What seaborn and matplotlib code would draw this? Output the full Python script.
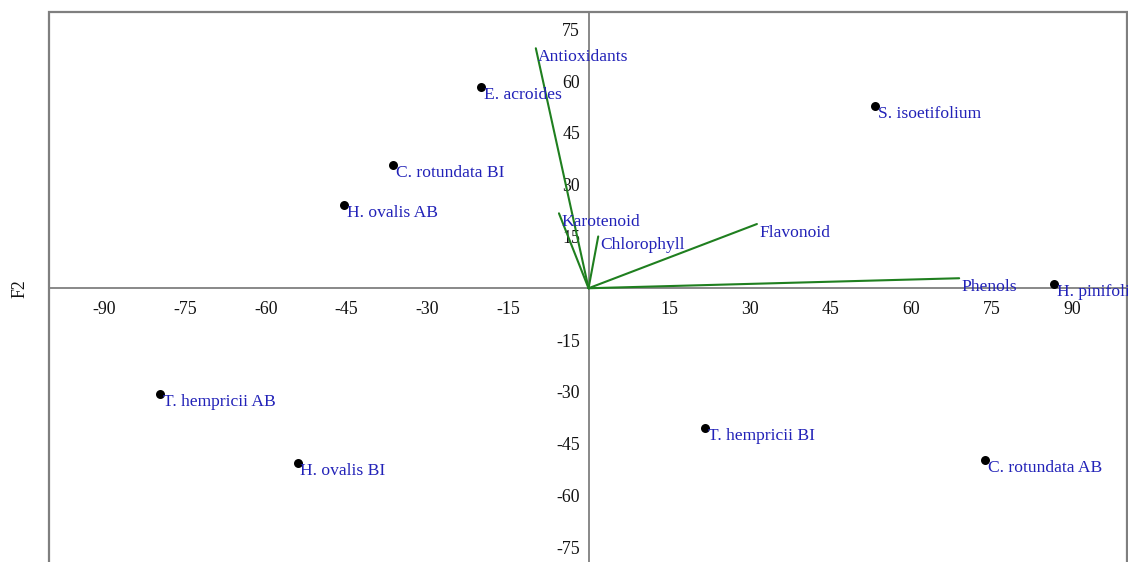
import matplotlib
matplotlib.use("Agg")
import matplotlib.pyplot as plt
import seaborn as sns
import pandas as pd
from matplotlib.patches import Rectangle

# Observation scores (F1, F2)
samples = ["E. acroides", "C. rotundata BI", "H. ovalis AB", "S. isoetifolium",
           "H. pinifolia", "T. hempricii AB", "H. ovalis BI", "T. hempricii BI",
           "C. rotundata AB"]
sample_f1 = [-19.9, -36.3, -45.4, 53.3, 86.6, -79.6, -54.1, 21.6, 73.7]
sample_f2 = [58.3, 35.6, 24.0, 52.8, 1.3, -30.5, -50.7, -40.6, -49.6]

# Variable loadings (scaled)
variables = ["Antioxidants", "Karotenoid", "Chlorophyll", "Flavonoid", "Phenols"]
var_f1 = [-9.8, -5.5, 1.8, 31.3, 68.9]
var_f2 = [69.5, 21.7, 15.0, 18.6, 2.9]

x_ticks = [-90, -75, -60, -45, -30, -15, 15, 30, 45, 60, 75, 90]
y_ticks = [-75, -60, -45, -30, -15, 15, 30, 45, 60, 75]

sns.set_style("white")
plt.rcParams["font.family"] = ["Liberation Serif", "DejaVu Serif"]

W, H = 1128, 562
fig = plt.figure(figsize=(W / 100, H / 100), dpi=100)
ax = fig.add_axes([49 / W, (H - 564.5) / H, 1078 / W, 552.5 / H])

axis_grey = "#7f7f7f"
label_blue = "#2222b8"
vec_green = "#1f7f1f"
tick_black = "#111111"

# loading vectors from the origin
rows = []
for name, x, y in zip(variables, var_f1, var_f2):
    rows.append({"var": name, "F1": 0.0, "F2": 0.0, "order": 0})
    rows.append({"var": name, "F1": x, "F2": y, "order": 1})
vec_df = pd.DataFrame(rows)
sns.lineplot(data=vec_df, x="F1", y="F2", units="var", estimator=None, sort=False,
             color=vec_green, linewidth=1.5, ax=ax, zorder=3)

# sample points
obs_df = pd.DataFrame({"sample": samples, "F1": sample_f1, "F2": sample_f2})
sns.scatterplot(data=obs_df, x="F1", y="F2", color="black", s=42, linewidth=0,
                ax=ax, zorder=4)

for name, x, y in zip(samples, sample_f1, sample_f2):
    t = ax.annotate(name, (x, y), xytext=(2, 0), textcoords="offset points",
                    ha="left", va="top", color=label_blue, fontsize=12.6, zorder=5)
    t.set_clip_on(True)
for name, x, y in zip(variables, var_f1, var_f2):
    t = ax.annotate(name, (x, y), xytext=(1.5, -0.5), textcoords="offset points",
                    ha="left", va="top", color=label_blue, fontsize=12.6, zorder=5)
    t.set_clip_on(True)

ax.set_xlim(-100.3, 100.1)
ax.set_ylim(-80, 80)

# axes crossing at the origin
for side in ("left", "bottom"):
    ax.spines[side].set_position(("data", 0))
    ax.spines[side].set_color(axis_grey)
    ax.spines[side].set_linewidth(1.3)
ax.spines["top"].set_visible(False)
ax.spines["right"].set_visible(False)

# outer frame
ax.add_patch(Rectangle((0, 0), 1, 1, transform=ax.transAxes, fill=False,
                       edgecolor=axis_grey, linewidth=1.6, zorder=1,
                       clip_on=False))

ax.set_xticks(x_ticks)
ax.set_yticks(y_ticks)
ax.set_xticklabels([str(v) for v in x_ticks])
ax.set_yticklabels([str(v) for v in y_ticks])
ax.tick_params(axis="both", direction="out", length=5, width=1.1,
               color=axis_grey, labelsize=12.8, labelcolor=tick_black)
ax.tick_params(axis="x", pad=4)
ax.tick_params(axis="y", pad=1)
ax.set_xlabel("")
ax.set_ylabel("")

fig.text(20 / W, 1 - 289 / H, "F2", rotation=90, ha="center", va="center",
         fontsize=12.8, color=tick_black)

fig.savefig("out.png", dpi=100)
